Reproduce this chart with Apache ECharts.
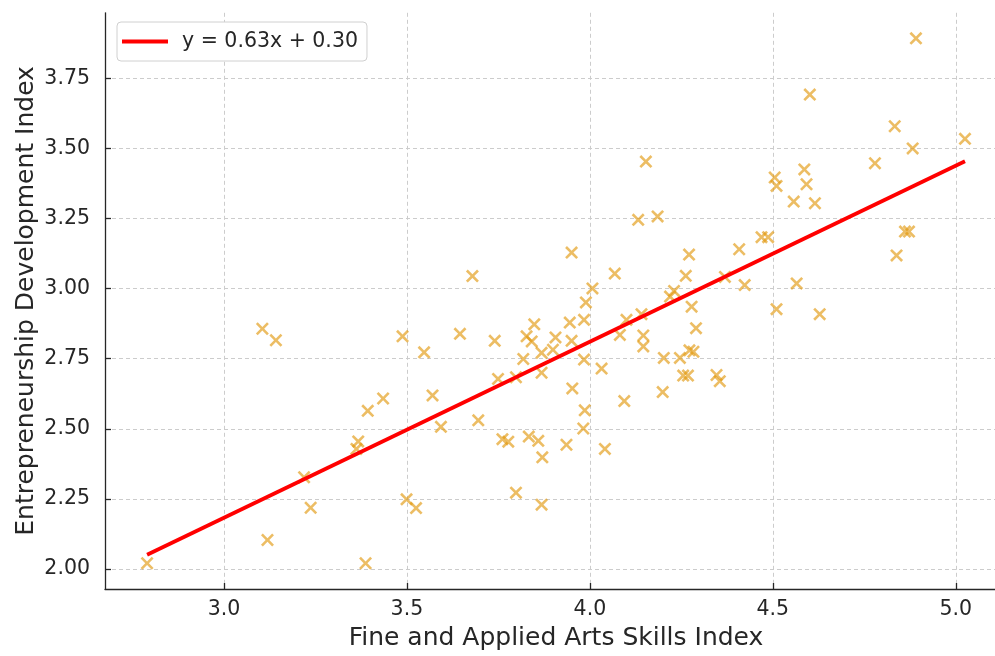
<!DOCTYPE html>
<html>
<head>
<meta charset="utf-8">
<script src="https://cdn.jsdelivr.net/npm/echarts@6/dist/echarts.min.js"></script>
<style>
html,body{margin:0;padding:0;background:#fff;overflow:hidden;}
#chart{width:995px;height:656px;}
</style>
</head>
<body>
<div id="chart"></div>
<script>
// Data
const artsSkills = [
  2.79, 3.105, 3.142, 3.119, 3.219, 3.237, 3.367, 3.362, 3.393, 3.435,
  3.387, 3.488, 3.499, 3.525, 3.547, 3.570, 3.593, 3.645, 3.679, 3.695,
  3.740, 3.749, 3.761, 3.777, 3.798, 3.798, 3.818, 3.827, 3.833, 3.841,
  3.848, 3.859, 3.868, 3.868, 3.870, 3.868, 3.899, 3.906, 3.936, 3.945,
  3.950, 3.950, 3.952, 3.984, 3.989, 3.984, 3.986, 3.982, 4.007, 4.032,
  4.041, 4.068, 4.082, 4.094, 4.100, 4.132, 4.141, 4.146, 4.146, 4.153,
  4.185, 4.199, 4.202, 4.219, 4.230, 4.246, 4.255, 4.268, 4.262, 4.271,
  4.272, 4.283, 4.278, 4.290, 4.346, 4.355, 4.369, 4.408, 4.423, 4.469,
  4.487, 4.505, 4.510, 4.510, 4.557, 4.565, 4.586, 4.592, 4.601, 4.615,
  4.628, 4.779, 4.833, 4.838, 4.861, 4.872, 4.882, 4.891, 5.025
];
const entrepreneurship = [
  2.020, 2.857, 2.816, 2.103, 2.327, 2.218, 2.455, 2.428, 2.564, 2.608,
  2.020, 2.830, 2.248, 2.217, 2.773, 2.619, 2.507, 2.839, 3.045, 2.530,
  2.814, 2.678, 2.463, 2.454, 2.684, 2.272, 2.749, 2.830, 2.472, 2.812,
  2.873, 2.457, 2.771, 2.700, 2.398, 2.229, 2.782, 2.826, 2.443, 2.879,
  2.814, 3.129, 2.644, 2.889, 2.951, 2.747, 2.566, 2.501, 3.001, 2.715,
  2.428, 3.054, 2.835, 2.599, 2.889, 3.246, 2.909, 2.833, 2.794, 3.454,
  3.258, 2.631, 2.753, 2.972, 2.992, 2.753, 2.690, 2.690, 3.046, 3.122,
  2.780, 2.775, 2.936, 2.859, 2.692, 2.670, 3.042, 3.141, 3.013, 3.184,
  3.184, 3.397, 3.367, 2.927, 3.311, 3.019, 3.426, 3.373, 3.693, 3.305,
  2.909, 3.448, 3.580, 3.119, 3.204, 3.204, 3.501, 3.894, 3.535
];
const fitLineX = [2.79, 5.025];
const fitLineY = [2.05, 3.455];
const fitLabel = 'y = 0.63x + 0.30';
const xTicks = [3.0, 3.5, 4.0, 4.5, 5.0];
const yTicks = [2.00, 2.25, 2.50, 2.75, 3.00, 3.25, 3.50, 3.75];
const xTitle = 'Fine and Applied Arts Skills Index';
const yTitle = 'Entrepreneurship Development Index';

const points = artsSkills.map((x, i) => [x, entrepreneurship[i]]);
const linePts = fitLineX.map((x, i) => [x, fitLineY[i]]);

const FONT = 'DejaVu Sans';
const TXT = '#262626';
const xMarker = 'path://M0,1.7L1.7,0L6,4.3L10.3,0L12,1.7L7.7,6L12,10.3L10.3,12L6,7.7L1.7,12L0,10.3L4.3,6Z';

const chart = echarts.init(document.getElementById('chart'), null, {renderer: 'canvas'});
chart.setOption({
  animation: false,
  backgroundColor: '#ffffff',
  grid: {left: 105, right: 0, top: 12.8, bottom: 63.3, containLabel: false},
  legend: {
    left: 117, top: 22,
    padding: [9, 9, 9, 5],
    backgroundColor: '#ffffff',
    borderColor: '#d0d0d0',
    borderWidth: 1,
    borderRadius: 4,
    itemWidth: 46, itemHeight: 4,
    data: [{name: fitLabel, icon: 'rect'}],
    textStyle: {fontFamily: FONT, fontSize: 20.5, color: TXT, padding: [0, 0, 0, 9]}
  },
  xAxis: {
    type: 'value', min: 2.675, max: 5.107,
    name: xTitle, nameLocation: 'middle', nameGap: 37,
    nameMoveOverlap: false,
    nameTextStyle: {fontFamily: FONT, fontSize: 25, color: TXT, padding: [0, 0, 0, 12]},
    axisLine: {show: true, onZero: false, lineStyle: {color: '#262626', width: 1.3}},
    axisTick: {show: true, inside: true, length: 6, customValues: xTicks, lineStyle: {color: '#262626', width: 1.3}},
    axisLabel: {customValues: xTicks, margin: 10, fontFamily: FONT, fontSize: 20.5, color: TXT, formatter: v => v.toFixed(1)},
    splitLine: {show: true, lineStyle: {color: '#cccccc', width: 1, type: [4, 3]}}
  },
  yAxis: {
    type: 'value', min: 1.928, max: 3.985,
    name: yTitle, nameLocation: 'middle', nameGap: 66,
    nameMoveOverlap: false,
    nameTextStyle: {fontFamily: FONT, fontSize: 25, color: TXT},
    axisLine: {show: true, onZero: false, lineStyle: {color: '#262626', width: 1.3}},
    axisTick: {show: true, inside: true, length: 6, customValues: yTicks, lineStyle: {color: '#262626', width: 1.3}},
    axisLabel: {customValues: yTicks, margin: 15, fontFamily: FONT, fontSize: 20.5, color: TXT, formatter: v => v.toFixed(2)},
    splitLine: {show: true, lineStyle: {color: '#cccccc', width: 1, type: [4, 3]}}
  },
  series: [
    {
      type: 'scatter',
      name: 'data',
      data: points,
      symbol: xMarker,
      symbolSize: 13,
      itemStyle: {color: 'rgba(226,152,12,0.8)', borderWidth: 0},
      z: 2
    },
    {
      type: 'line',
      name: fitLabel,
      data: linePts,
      showSymbol: false,
      symbol: 'none',
      lineStyle: {color: '#ff0000', width: 3.8},
      itemStyle: {color: '#ff0000'},
      z: 3
    }
  ]
});
</script>
</body>
</html>
